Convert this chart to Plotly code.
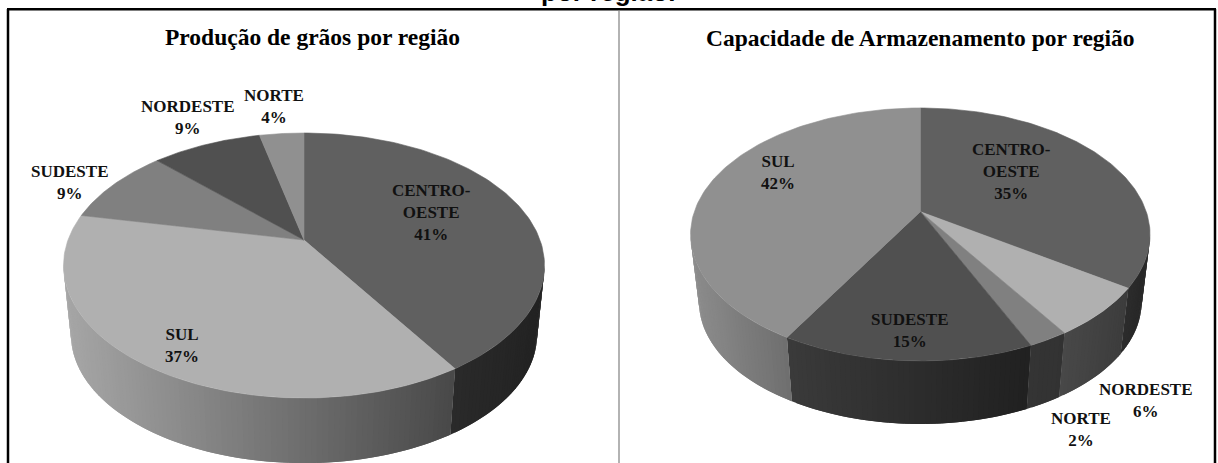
import numpy as np
import plotly.graph_objects as go

# ---- data ----
regions_prod = ["CENTRO-<br>OESTE", "SUL", "SUDESTE", "NORDESTE", "NORTE"]
values_prod = [41.0, 37.2, 9.3, 8.9, 3.6]
pct_prod = ["41%", "37%", "9%", "9%", "4%"]

regions_cap = ["CENTRO-<br>OESTE", "NORDESTE", "NORTE", "SUDESTE", "SUL"]
values_cap = [34.5, 6.4, 2.4, 15.0, 41.7]
pct_cap = ["35%", "6%", "2%", "15%", "42%"]

title_prod = "Produção de grãos por região"
title_cap = "Capacidade de Armazenamento por região"
title_main = "por região."

# ---- styles / layout ----
W, H = 1218, 463
top_colors_prod = ["#606060", "#b0b0b0", "#808080", "#505050", "#909090"]
top_colors_cap = ["#606060", "#b0b0b0", "#808080", "#505050", "#909090"]
# side gradient (left grey, right grey) per slice
side_prod = [(0x2a, 0x22), (0xa6, 0x48), (0x80, 0x80), (0x50, 0x50), (0x90, 0x90)]
side_cap = [(0x2c, 0x26), (0x48, 0x3c), (0x34, 0x32), (0x3a, 0x20), (0x8c, 0x6e)]
geom_prod = dict(cx=304, cy=240, R=236, S=127.6, k=0.1925, by=70, bs=0.969)
geom_cap = dict(cx=920.3, cy=211.7, R=226, S=122.4, k=0.180, by=68.5, bs=0.963)
label_pos_prod = [(431.5, 212), (182, 345.5), (69, 182.5), (188, 117), (273.5, 106)]
label_pos_cap = [(1011, 171), (1146, 400), (1081, 429), (909, 330), (777.5, 172.5)]

fig = go.Figure()


def project(theta, g, base=False):
    s, c = np.sin(theta), np.cos(theta)
    d = 1 + g["k"] * c
    x, y = g["R"] * s / d, -g["S"] * c / d
    if base:
        return g["cx"] + g["bs"] * x, g["cy"] + g["by"] + g["bs"] * y
    return g["cx"] + x, g["cy"] + y


def poly(x, y, color, edge=True):
    fig.add_trace(go.Scatter(x=list(x), y=list(y), mode="lines" if edge else "none", fill="toself",
                             fillcolor=color, line=dict(color=color, width=0.6),
                             hoverinfo="skip", showlegend=False))


def grey(v):
    v = int(round(v))
    return f"rgb({v},{v},{v})"


def pie(values, top_colors, sides, g):
    fr = np.cumsum([0] + list(values)) / sum(values) * 2 * np.pi
    lo = np.pi - np.arccos(g["k"])   # right silhouette
    hi = np.pi + np.arccos(g["k"])   # left silhouette
    # side wall, in overlapping strips for the gradient
    for i in range(len(values)):
        a, b = max(fr[i], lo), min(fr[i + 1], hi)
        if a >= b:
            continue
        edges = np.linspace(a, b, max(2, int((b - a) / 0.02)) + 1)
        xa, _ = project(a, g)
        xb, _ = project(b, g)
        # painted from the left end of the slice towards the right, each overlapping the next
        for j in range(len(edges) - 1, 0, -1):
            t1 = edges[j]
            t0 = edges[max(j - 2, 0)]
            x0, y0 = project(t0, g)
            x1, y1 = project(t1, g)
            x2, y2 = project(t1, g, True)
            x3, y3 = project(t0, g, True)
            f = (xa - x1) / (xa - xb) if xa != xb else 0
            col = grey(sides[i][1] + (sides[i][0] - sides[i][1]) * f)
            poly([x0, x1, x2, x3, x0], [y0, y1, y2, y3, y0], col, edge=False)
    # top surface
    for i in range(len(values)):
        th = np.linspace(fr[i], fr[i + 1], 120)
        x, y = project(th, g)
        poly(np.r_[g["cx"], x, g["cx"]], np.r_[g["cy"], y, g["cy"]], top_colors[i])


pie(values_prod, top_colors_prod, side_prod, geom_prod)
pie(values_cap, top_colors_cap, side_cap, geom_cap)

serif = "Liberation Serif"
ann = []
for names, pcts, pos in ((regions_prod, pct_prod, label_pos_prod), (regions_cap, pct_cap, label_pos_cap)):
    for n, p, (x, y) in zip(names, pcts, pos):
        ann.append(dict(x=x, y=y, text=f"<b>{n}<br>{p}</b>", showarrow=False, xref="x", yref="y",
                        align="center", xanchor="center", yanchor="middle",
                        font=dict(family=serif, size=17, color="#111111")))
ann.append(dict(x=312, y=37, text=f"<b>{title_prod}</b>", showarrow=False, xref="x", yref="y",
                xanchor="center", yanchor="middle", font=dict(family=serif, size=23.5, color="#000000")))
ann.append(dict(x=920, y=38, text=f"<b>{title_cap}</b>", showarrow=False, xref="x", yref="y",
                xanchor="center", yanchor="middle", font=dict(family=serif, size=23.5, color="#000000")))
ann.append(dict(x=607.5 / W, y=1 + 8 / H, text=f"<b>{title_main}</b>", showarrow=False, xref="paper", yref="paper",
                xanchor="center", yanchor="middle", font=dict(family="Liberation Sans", size=26, color="#000000")))

fig.update_layout(
    width=W, height=H, margin=dict(l=0, r=0, t=0, b=0),
    paper_bgcolor="white", plot_bgcolor="white", showlegend=False,
    xaxis=dict(range=[0, W], visible=False, fixedrange=True),
    yaxis=dict(range=[H, 0], visible=False, fixedrange=True),
    annotations=ann,
    shapes=[
        dict(type="line", x0=8, x1=8, y0=9, y1=H, line=dict(color="#000000", width=2.5), layer="above"),
        dict(type="line", x0=7, x1=1216, y0=9.2, y1=9.2, line=dict(color="#000000", width=2.5), layer="above"),
        dict(type="line", x0=1215, x1=1215, y0=9, y1=H, line=dict(color="#000000", width=2.5), layer="above"),
        dict(type="line", x0=619, x1=619, y0=10, y1=H, line=dict(color="#808080", width=1.2), layer="above"),
    ],
)
fig.write_html("out.html", config=dict(displayModeBar=False),
               post_script="document.body.style.margin='0';")
